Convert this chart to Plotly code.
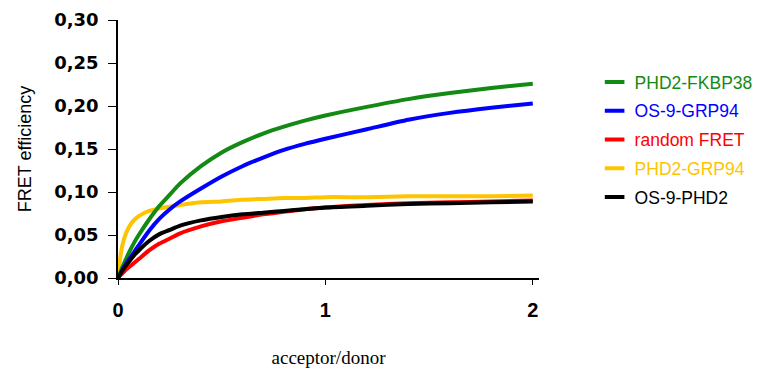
import plotly.graph_objects as go

ratio = [0, 0.01, 0.02, 0.04, 0.06, 0.08, 0.1, 0.15, 0.2, 0.25, 0.3, 0.4, 0.5,
         0.6, 0.7, 0.8, 0.9, 1.0, 1.2, 1.4, 1.6, 1.8, 2.0]

phd2_fkbp38 = [0, 0.006, 0.012, 0.023, 0.033, 0.042, 0.050, 0.068, 0.084, 0.097,
               0.110, 0.130, 0.146, 0.158, 0.168, 0.176, 0.183, 0.189, 0.199,
               0.208, 0.215, 0.221, 0.226]
os9_grp94 = [0, 0.004, 0.009, 0.017, 0.024, 0.031, 0.038, 0.055, 0.069, 0.080,
             0.089, 0.104, 0.118, 0.130, 0.140, 0.149, 0.156, 0.162, 0.173,
             0.184, 0.192, 0.198, 0.203]
random_fret = [0, 0.003, 0.005, 0.010, 0.014, 0.018, 0.022, 0.032, 0.040, 0.046,
               0.052, 0.060, 0.066, 0.070, 0.074, 0.077, 0.080, 0.082, 0.085,
               0.087, 0.088, 0.089, 0.090]
phd2_grp94 = [0, 0.022, 0.037, 0.053, 0.062, 0.068, 0.072, 0.078, 0.081, 0.083,
              0.085, 0.088, 0.089, 0.091, 0.092, 0.093, 0.093, 0.094, 0.094,
              0.095, 0.095, 0.095, 0.096]
os9_phd2 = [0, 0.004, 0.008, 0.015, 0.021, 0.027, 0.032, 0.043, 0.051, 0.056,
            0.061, 0.067, 0.071, 0.074, 0.076, 0.078, 0.080, 0.082, 0.084,
            0.086, 0.087, 0.088, 0.089]

series_names = ["PHD2-FKBP38", "OS-9-GRP94", "random FRET", "PHD2-GRP94", "OS-9-PHD2"]
series_values = [phd2_fkbp38, os9_grp94, random_fret, phd2_grp94, os9_phd2]
series_colors = ["#138a13", "#0000ff", "#ff0000", "#ffc400", "#000000"]

y_tick_vals = [0, 0.05, 0.10, 0.15, 0.20, 0.25, 0.30]
y_tick_text = ["0,00", "0,05", "0,10", "0,15", "0,20", "0,25", "0,30"]
x_tick_vals = [0, 1, 2]
x_tick_text = ["0", "1", "2"]

fig = go.Figure()

draw_order = [3, 0, 1, 2, 4]
for i in draw_order:
    fig.add_trace(go.Scatter(
        x=ratio, y=series_values[i], mode="lines",
        line=dict(color=series_colors[i], width=4, shape="spline", smoothing=0.6),
        showlegend=False, hoverinfo="skip"))

for i, name in enumerate(series_names):
    fig.add_trace(go.Scatter(
        x=[None], y=[None], mode="markers",
        marker=dict(symbol="line-ew", size=14,
                    line=dict(color=series_colors[i], width=4)),
        name=f"<span style='color:{series_colors[i]}'>{name}</span>",
        legendgroup=f"g{i}", showlegend=True))

# the page body has an 8px margin, so the figure is sized to the visible area
fig.update_layout(
    width=754, height=361,
    margin=dict(l=110, r=223, t=12, b=91, autoexpand=False),
    paper_bgcolor="white", plot_bgcolor="white",
    font=dict(family="Liberation Sans, Arial", color="black"),
    legend=dict(
        xref="container", yref="container",
        x=0.778, y=1 - 56 / 361, xanchor="left", yanchor="top",
        font=dict(family="Liberation Sans, Arial", size=17.5),
        tracegroupgap=3, itemwidth=30, bgcolor="rgba(0,0,0,0)"),
    xaxis=dict(
        range=[0, 2.03], tickvals=x_tick_vals, ticktext=x_tick_text,
        automargin=False,
        showgrid=False, zeroline=False, showline=True, linecolor="black",
        linewidth=1.5, ticks="outside", ticklen=5, tickcolor="black",
        ticklabelstandoff=8,
        tickfont=dict(family="Liberation Sans, Arial", size=20, weight="bold"),
        title=dict(text="acceptor/donor", standoff=31,
                   font=dict(family="Liberation Serif, Times New Roman", size=19))),
    yaxis=dict(
        range=[0, 0.30], tickvals=y_tick_vals, ticktext=y_tick_text,
        automargin=False,
        showgrid=False, zeroline=False, showline=True, linecolor="black",
        linewidth=1.5, ticks="outside", ticklen=8, tickcolor="black",
        ticklabelstandoff=6,
        tickfont=dict(family="DejaVu Sans", size=18, weight="bold"),
        title=dict(text="FRET efficiency", standoff=18,
                   font=dict(family="Liberation Sans, Arial", size=18))),
)

fig.write_html("out.html")
